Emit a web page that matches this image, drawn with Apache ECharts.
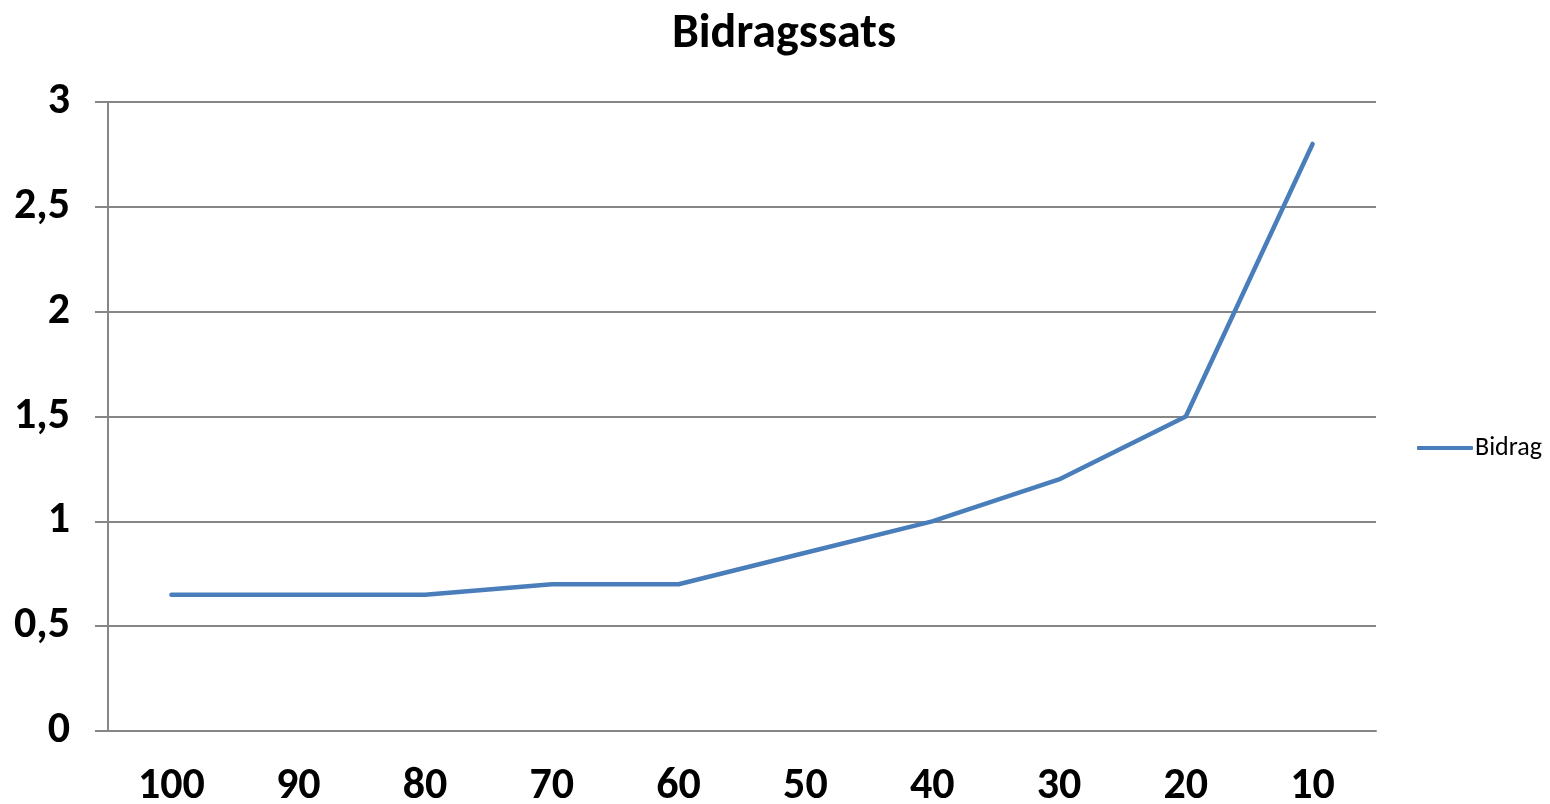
<!DOCTYPE html>
<html>
<head>
<meta charset="utf-8">
<script src="https://cdn.jsdelivr.net/npm/echarts@6/dist/echarts.min.js"></script>
<style>
  html, body { margin: 0; padding: 0; background: #fff; }
  #chart { width: 1550px; height: 804px; }
</style>
</head>
<body>
<div id="chart"></div>
<script>
// kategorier (x-akse) og værdier
const categories = ['100', '90', '80', '70', '60', '50', '40', '30', '20', '10'];
const bidrag = [0.65, 0.65, 0.65, 0.7, 0.7, 0.85, 1.0, 1.2, 1.5, 2.8];

const fontFamily = 'Carlito, Lato, "Open Sans", sans-serif';
const axisGrey = '#868686';

const myChart = echarts.init(document.getElementById('chart'));
myChart.setOption({
  animation: false,
  color: ['#4A7EBB'],
  title: {
    text: 'Bidragssats',
    left: 779,
    textAlign: 'center',
    top: 6,
    textStyle: { fontFamily: fontFamily, fontSize: 48, fontWeight: 'bold', color: '#000' }
  },
  legend: {
    data: ['Bidrag'],
    orient: 'vertical',
    left: 1412,
    top: 430,
    itemWidth: 56,
    itemHeight: 4,
    icon: 'roundRect',
    textStyle: { fontFamily: fontFamily, fontSize: 26, color: '#000', padding: [0, 0, 0, -3] }
  },
  grid: {
    left: 108,
    right: 174,
    top: 102,
    bottom: 73,
    containLabel: false,
    outerBoundsMode: 'none'
  },
  xAxis: {
    type: 'category',
    data: categories,
    boundaryGap: true,
    axisLine: { lineStyle: { color: axisGrey, width: 2 } },
    axisTick: { length: 11, lineStyle: { color: axisGrey, width: 2 } },
    axisLabel: {
      margin: 34,
      fontFamily: fontFamily,
      fontSize: 44,
      fontWeight: 'bold',
      color: '#000'
    }
  },
  yAxis: {
    type: 'value',
    min: 0,
    max: 3,
    interval: 0.5,
    axisLine: { show: true, lineStyle: { color: axisGrey, width: 2 } },
    axisTick: { show: true, length: 13, lineStyle: { color: axisGrey, width: 2 } },
    splitLine: { lineStyle: { color: axisGrey, width: 2 } },
    axisLabel: {
      margin: 38,
      fontFamily: fontFamily,
      fontSize: 44,
      fontWeight: 'bold',
      color: '#000',
      formatter: function (v) { return String(v).replace('.', ','); }
    }
  },
  series: [
    {
      name: 'Bidrag',
      type: 'line',
      data: bidrag,
      symbol: 'none',
      lineStyle: { width: 4.5, color: '#4A7EBB', cap: 'round', join: 'round' }
    }
  ]
});
</script>
</body>
</html>
